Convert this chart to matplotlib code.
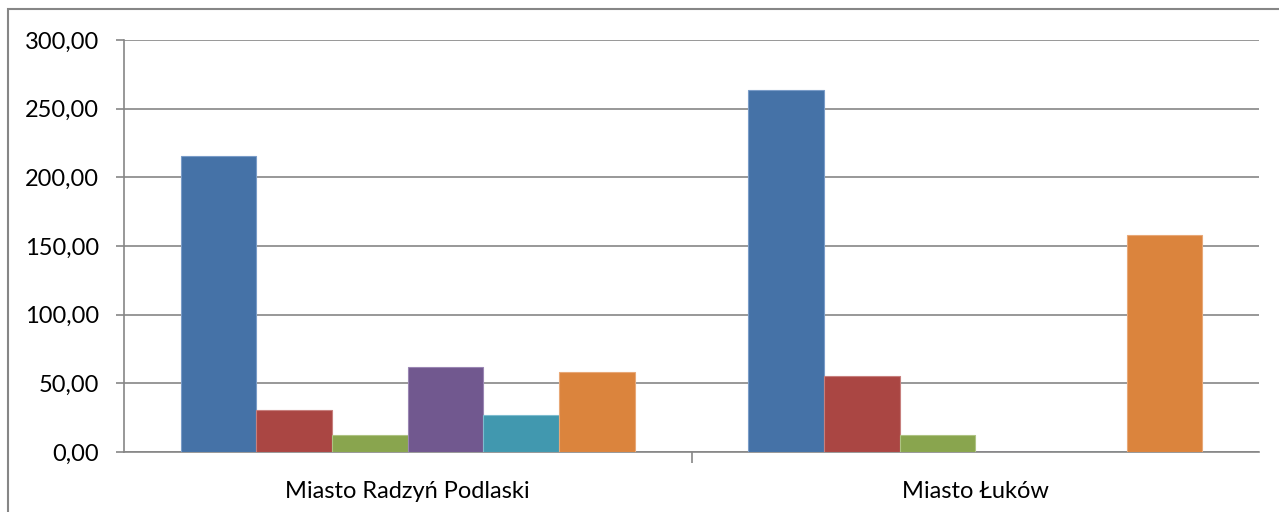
import matplotlib.pyplot as plt
import numpy as np
from matplotlib.patches import Rectangle

# data
categories = ["Miasto Radzyń Podlaski", "Miasto Łuków"]
series1 = [215.5, 263.5]
series2 = [30.5, 55.3]
series3 = [12.3, 12.3]
series4 = [61.8, 0]
series5 = [26.8, 0]
series6 = [58.3, 158.0]
colors = ["#4572A7", "#AA4643", "#89A54E", "#71588F", "#4198AF", "#DB843D"]
edges = ["#7A9CC8", "#C77F7D", "#AEC383", "#9A86B3", "#7DBCCF", "#E8A877"]
yticks = [0, 50, 100, 150, 200, 250, 300]

plt.rcParams['font.family'] = ['Lato', 'DejaVu Sans']

fig = plt.figure(figsize=(12.79, 5.12), dpi=100)
ax = fig.add_axes([124 / 1279, 60 / 512, 1135 / 1279, 412 / 512])

# outer chart frame (left and top visible only)
fig.patches.append(Rectangle((8 / 1279, -0.05), 1.2, (503 / 512) + 0.05,
                             transform=fig.transFigure, fill=False,
                             edgecolor="#868686", linewidth=1.5))

all_series = [series1, series2, series3, series4, series5, series6]
n = len(all_series)
x = np.arange(len(categories))
w = 0.8 / n
for i, s in enumerate(all_series):
    ax.bar(x - 0.4 + w * (i + 0.5), s, width=w, color=colors[i],
           edgecolor=edges[i], linewidth=0.8, zorder=3)

ax.set_xlim(-0.5, 1.5)
ax.set_ylim(0, 300)
ax.set_yticks(yticks)
ax.set_yticklabels([f"{v:.2f}".replace(".", ",") for v in yticks], fontsize=17)
ax.yaxis.grid(True, color="#868686", linewidth=1.2, zorder=0)

ax.set_xticks([0.5], minor=False)
ax.set_xticklabels([])
ax.set_xticks(x, minor=True)
ax.set_xticklabels(categories, minor=True, fontsize=17)
ax.tick_params(axis="x", which="major", length=8, width=1.2, color="#868686")
ax.tick_params(axis="x", which="minor", length=0, pad=21)
ax.tick_params(axis="y", length=6, width=1.2, color="#868686", pad=12)

for side in ["top", "right"]:
    ax.spines[side].set_visible(False)
for side in ["left", "bottom"]:
    ax.spines[side].set_color("#868686")
    ax.spines[side].set_linewidth(1.2)

fig.savefig("out.png", dpi=100)
